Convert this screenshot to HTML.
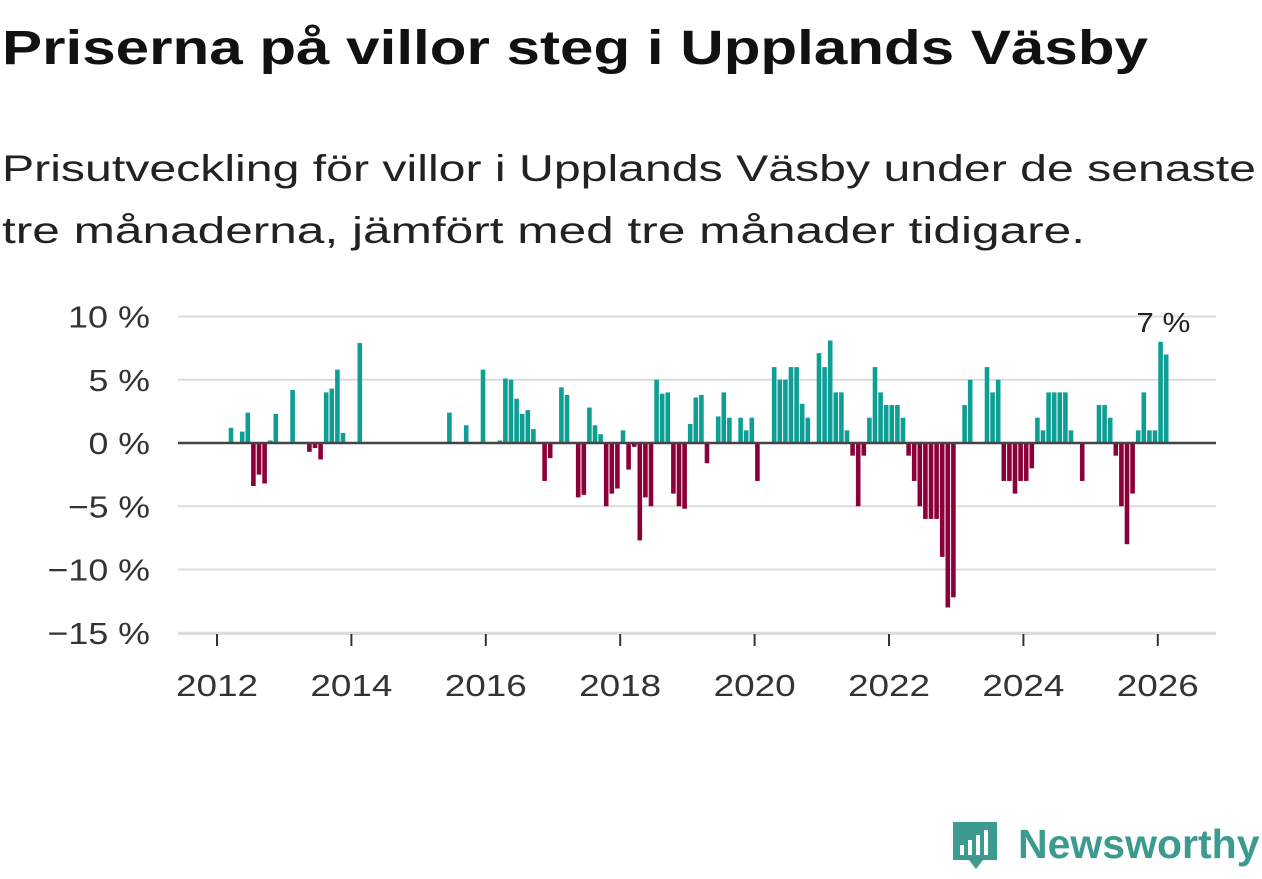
<!DOCTYPE html>
<html><head><meta charset="utf-8"><style>
body{margin:0;width:1262px;height:879px;background:#fff;overflow:hidden;font-family:"Liberation Sans",sans-serif;}
svg{position:absolute;left:0;top:0}
</style></head><body>
<svg width="1262" height="879">
<text x="2" y="64" font-size="48" font-weight="bold" fill="#111" textLength="1146" lengthAdjust="spacingAndGlyphs">Priserna på villor steg i Upplands Väsby</text>
<text x="2" y="181" font-size="37" fill="#222" textLength="1254" lengthAdjust="spacingAndGlyphs">Prisutveckling för villor i Upplands Väsby under de senaste</text>
<text x="2" y="243" font-size="37" fill="#222" textLength="1083" lengthAdjust="spacingAndGlyphs">tre månaderna, jämfört med tre månader tidigare.</text>
<g id="grid"></g><g id="bars"></g><g id="axes"></g>
<g>
<path d="M953 822 h44 v38 h-14 l-7 9 l-7 -9 h-16 z" fill="#3c9a8f"/>
<rect x="960" y="845" width="4" height="10" fill="#fff"/><rect x="968" y="840" width="4" height="15" fill="#fff"/><rect x="976" y="835" width="4" height="20" fill="#fff"/><rect x="984" y="830" width="4" height="25" fill="#fff"/>
<text x="1018" y="858" font-size="41" font-weight="bold" fill="#3c9a8f">Newsworthy</text>
</g>
</svg>
<script>
const startYear = 2012;
const values = [
null,null,1.2,null,0.9,2.4,-3.4,-2.5,-3.2,0.2,2.3,null,
null,4.2,null,null,-0.7,-0.4,-1.3,4.0,4.3,5.8,0.8,null,
null,7.9,null,null,null,null,null,null,null,null,null,null,
null,null,null,null,null,2.4,null,null,1.4,null,null,5.8,
null,null,0.2,5.1,5.0,3.5,2.3,2.6,1.1,null,-3.0,-1.2,
null,4.4,3.8,null,-4.3,-4.1,2.8,1.4,0.7,-5.0,-4.0,-3.6,
1.0,-2.1,-0.3,-7.7,-4.3,-5.0,5.0,3.9,4.0,-4.0,-5.0,-5.2,
1.5,3.6,3.8,-1.6,null,2.1,4.0,2.0,null,2.0,1.0,2.0,
-3.0,null,null,6.0,5,5,6,6,3.1,2,null,7.1,
6,8.1,4,4,1,-1,-5,-1,2,6,4,3,
3,3,2,-1,-3,-5,-6,-6,-6,-9,-13,-12.2,
null,3,5,null,null,6,4,5,-3,-3,-4,-3,
-3,-2,2,1,4,4,4,4,1,null,-3,null,
null,3,3,2,-1,-5,-8,-4,1,4,1,1,
8,7];
const yTicks = [10,5,0,-5,-10,-15];
const yTickLabels = ["10 %","5 %","0 %","−5 %","−10 %","−15 %"];
const xTicks = [2012,2014,2016,2018,2020,2022,2024,2026];
const lastLabel = "7 %";

const NS="http://www.w3.org/2000/svg";
const X0=217, MW=5.6, Y0=443, YS=12.65;
const xm = i => X0 + i*MW;
const xy = yr => X0 + (yr-startYear)*12*MW;
const y = v => Y0 - v*YS;
function mk(tag, attrs, parent){const e=document.createElementNS(NS,tag);for(const k in attrs)e.setAttribute(k,attrs[k]);document.getElementById(parent).appendChild(e);return e;}
yTicks.forEach((t,k)=>{
  if(t!==0){const l=mk('line',{x1:178,x2:1216,y1:y(t),y2:y(t),stroke:'#dcdcdc','stroke-width':2},'grid');
  
  }
  const s=yTickLabels[k];
  const tx=mk('text',{x:150,y:y(t)+11,'text-anchor':'end','font-size':31,fill:'#333',textLength:s.length*20.5,lengthAdjust:'spacingAndGlyphs'},'axes');
  tx.textContent=s;
  
  
});
values.forEach((v,i)=>{
  if(v===null)return;
  const r=mk('rect',{x:xm(i)+0.5,width:4.6,y:Math.min(y(v),Y0),height:Math.abs(v)*YS,fill:v>=0?'#0e9e94':'#8c0039'},'bars');
  
  
});
const zl=mk('line',{x1:178,x2:1216,y1:Y0,y2:Y0,stroke:'#444','stroke-width':2.5},'axes');


const ax=mk('line',{x1:178,x2:1216,y1:634,y2:634,stroke:'#dcdcdc','stroke-width':2},'axes');


xTicks.forEach(t=>{
  const tk=mk('line',{x1:xy(t),x2:xy(t),y1:634,y2:646,stroke:'#333','stroke-width':2},'axes');
  
  
  const tx=mk('text',{x:xy(t)-41,y:696,'font-size':31,fill:'#333',textLength:82,lengthAdjust:'spacingAndGlyphs'},'axes');
  tx.textContent=t;
  
  
});
const li=values.length-1;
const lb=mk('text',{x:xm(li)-27,y:y(Math.max(values[li],values[li-1]))-10,'font-size':28,fill:'#222',textLength:54,lengthAdjust:'spacingAndGlyphs'},'axes');
lb.textContent=lastLabel;


</script>
</body></html>
